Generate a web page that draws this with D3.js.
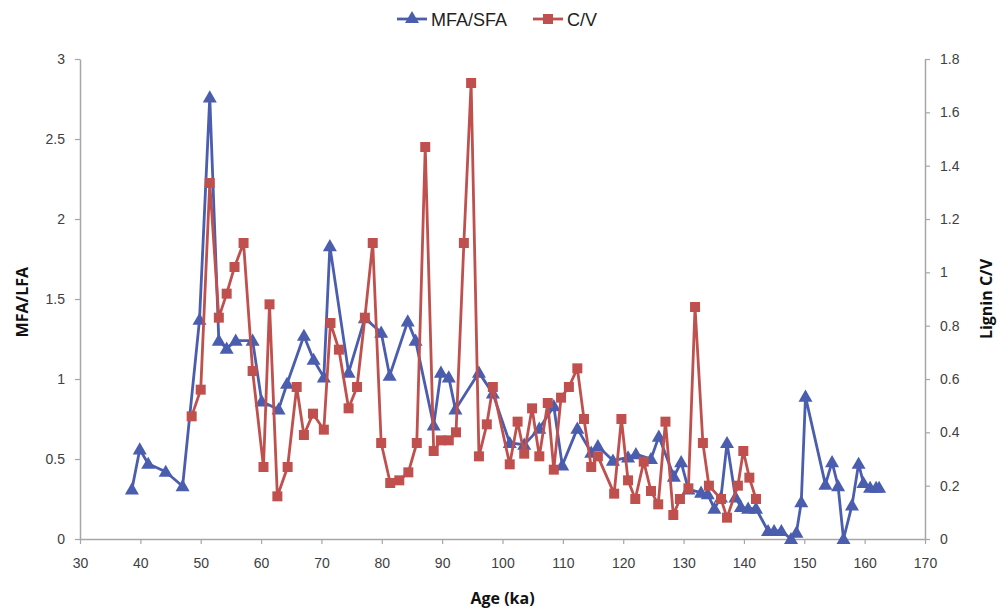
<!DOCTYPE html>
<html>
<head>
<meta charset="utf-8">
<script src="https://cdn.jsdelivr.net/npm/d3@7"></script>
<style>
  body { margin: 0; background: #fff; }
  .tick text { font-family: "Liberation Sans Narrow", "Liberation Sans", sans-serif; font-size: 14px; fill: #404040; }
  .axis-title { font-family: "Open Sans", sans-serif; font-weight: bold; font-size: 16px; fill: #111; }
  .legend text { font-family: "Liberation Sans Narrow", sans-serif; font-size: 18px; fill: #222; }
</style>
</head>
<body>
<svg id="chart" width="1000" height="611"></svg>
<script>
// MFA/SFA (left axis)
var mfaAge = [38.6, 39.9, 41.3, 44.2, 47.0, 49.8, 51.5, 53.0, 54.3, 55.8, 58.6, 60.1, 62.9, 64.3, 67.1, 68.7, 70.4, 71.4, 74.5, 77.2,
  79.9, 81.3, 84.3, 85.6, 88.6, 89.8, 91.1, 92.2, 96.1, 98.4, 101.2, 103.6, 106.1, 108.5, 109.9, 112.4, 114.7, 115.8, 118.3, 120.8,
  122.1, 124.6, 125.9, 128.4, 129.6, 130.8, 132.9, 134.0, 135.1, 136.2, 137.2, 138.6, 139.5, 140.7, 142.0, 144.0, 145.0, 146.2, 147.8, 148.7,
  149.5, 150.2, 153.5, 154.6, 155.6, 156.5, 157.9, 159.0, 159.8, 160.9, 161.9, 162.4];
var mfaVal = [0.31, 0.56, 0.47, 0.42, 0.33, 1.37, 2.76, 1.24, 1.19, 1.24, 1.24, 0.86, 0.81, 0.97, 1.27, 1.12, 1.01, 1.83, 1.04, 1.38,
  1.29, 1.02, 1.36, 1.24, 0.71, 1.04, 1.01, 0.81, 1.04, 0.91, 0.60, 0.59, 0.69, 0.83, 0.46, 0.69, 0.54, 0.58, 0.49, 0.51,
  0.53, 0.50, 0.64, 0.39, 0.48, 0.31, 0.29, 0.28, 0.19, 0.26, 0.60, 0.26, 0.20, 0.19, 0.19, 0.05, 0.05, 0.05, 0.00, 0.04,
  0.23, 0.89, 0.34, 0.48, 0.33, 0.00, 0.21, 0.47, 0.35, 0.32, 0.32, 0.32];

// Lignin C/V (right axis)
var cvAge = [48.5, 50.0, 51.5, 53.0, 54.3, 55.6, 57.1, 58.6, 60.4, 61.4, 62.7, 64.4, 65.9, 67.1, 68.6, 70.4, 71.5, 72.9, 74.5, 75.9,
  77.2, 78.5, 79.9, 81.4, 82.9, 84.4, 85.8, 87.2, 88.6, 89.8, 91.1, 92.3, 93.6, 94.8, 96.1, 97.4, 98.4, 101.2, 102.5, 103.6,
  104.9, 106.1, 107.5, 108.5, 109.7, 111.0, 112.4, 113.5, 114.7, 115.8, 118.5, 119.7, 120.8, 122.0, 123.4, 124.6, 125.8, 127.0, 128.3, 129.4,
  130.8, 131.9, 133.2, 134.2, 136.2, 137.2, 139.0, 139.9, 140.9, 142.0];
var cvVal = [0.46, 0.56, 1.335, 0.83, 0.92, 1.02, 1.11, 0.63, 0.27, 0.88, 0.16, 0.27, 0.57, 0.39, 0.47, 0.41, 0.81, 0.71, 0.49, 0.57,
  0.83, 1.11, 0.36, 0.21, 0.22, 0.25, 0.36, 1.47, 0.33, 0.37, 0.37, 0.40, 1.11, 1.71, 0.31, 0.43, 0.57, 0.28, 0.44, 0.32,
  0.49, 0.31, 0.51, 0.26, 0.53, 0.57, 0.64, 0.45, 0.27, 0.31, 0.17, 0.45, 0.22, 0.15, 0.29, 0.18, 0.13, 0.44, 0.09, 0.15,
  0.19, 0.87, 0.36, 0.20, 0.15, 0.08, 0.20, 0.33, 0.23, 0.15];

var xTicks = d3.range(30, 171, 10);
var yLeftTicks = [0, 0.5, 1, 1.5, 2, 2.5, 3];
var yRightTicks = [0, 0.2, 0.4, 0.6, 0.8, 1, 1.2, 1.4, 1.6, 1.8];

var blue = '#4A5DAE', red = '#C0504D', axisGray = '#A6A6A6';
var margin = {left: 80, right: 75, top: 59, bottom: 72};
var width = 1000, height = 611;

var svg = d3.select('#chart');

var x = d3.scaleLinear().domain([30, 170]).range([margin.left, width - margin.right]);
var yL = d3.scaleLinear().domain([0, 3]).range([height - margin.bottom, margin.top]);
var yR = d3.scaleLinear().domain([0, 1.8]).range([height - margin.bottom, margin.top]);

function styleAxis(g) {
  g.select('.domain').attr('stroke', axisGray).attr('stroke-width', 1.5);
  g.selectAll('.tick line').attr('stroke', axisGray).attr('stroke-width', 1.2);
}

svg.append('g')
  .attr('transform', 'translate(0,' + yL(0) + ')')
  .call(d3.axisBottom(x).tickValues(xTicks).tickSize(5).tickSizeOuter(0).tickPadding(14))
  .call(styleAxis);

svg.append('g')
  .attr('transform', 'translate(' + margin.left + ',0)')
  .call(d3.axisLeft(yL).tickValues(yLeftTicks).tickFormat(d3.format('')).tickSize(5).tickSizeOuter(0).tickPadding(10))
  .call(styleAxis);

svg.append('g')
  .attr('transform', 'translate(' + (width - margin.right) + ',0)')
  .call(d3.axisRight(yR).tickValues(yRightTicks).tickFormat(d3.format('')).tickSize(5).tickSizeOuter(0).tickPadding(10))
  .call(styleAxis);

// axis titles
svg.append('text').attr('class', 'axis-title')
  .attr('x', (margin.left + width - margin.right) / 2).attr('y', 604)
  .attr('text-anchor', 'middle').text('Age (ka)');
svg.append('text').attr('class', 'axis-title')
  .attr('transform', 'translate(28,' + yL(1.48) + ') rotate(-90)')
  .attr('text-anchor', 'middle').text('MFA/LFA');
svg.append('text').attr('class', 'axis-title')
  .attr('transform', 'translate(992,' + yR(0.9) + ') rotate(-90)')
  .attr('text-anchor', 'middle').text('Lignin C/V');

var mfa = mfaAge.map(function(a, i) { return {x: a, y: mfaVal[i]}; });
var cv = cvAge.map(function(a, i) { return {x: a, y: cvVal[i]}; });

var tri = d3.symbol().type(d3.symbolTriangle).size(85);
var sq = d3.symbol().type(d3.symbolSquare).size(100);

// MFA/SFA series
svg.append('path').datum(mfa)
  .attr('fill', 'none').attr('stroke', blue).attr('stroke-width', 2.8).attr('stroke-linejoin', 'round')
  .attr('d', d3.line().x(function(d) { return x(d.x); }).y(function(d) { return yL(d.y); }));
svg.append('g').selectAll('path').data(mfa).join('path')
  .attr('d', tri).attr('fill', blue)
  .attr('transform', function(d) { return 'translate(' + x(d.x) + ',' + (yL(d.y) + 1) + ')'; });

// C/V series
svg.append('path').datum(cv)
  .attr('fill', 'none').attr('stroke', red).attr('stroke-width', 2.8).attr('stroke-linejoin', 'round')
  .attr('d', d3.line().x(function(d) { return x(d.x); }).y(function(d) { return yR(d.y); }));
svg.append('g').selectAll('path').data(cv).join('path')
  .attr('d', sq).attr('fill', red)
  .attr('transform', function(d) { return 'translate(' + x(d.x) + ',' + yR(d.y) + ')'; });

// legend
var legend = svg.append('g').attr('class', 'legend');
var items = [{name: 'MFA/SFA', color: blue, sym: tri, x: 397}, {name: 'C/V', color: red, sym: sq, x: 533}];
items.forEach(function(it) {
  var g = legend.append('g').attr('transform', 'translate(' + it.x + ',19)');
  g.append('line').attr('x1', 0).attr('x2', 30).attr('stroke', it.color).attr('stroke-width', 2.8);
  g.append('path').attr('d', it.sym).attr('fill', it.color).attr('transform', 'translate(15,0)');
  g.append('text').attr('x', 34).attr('y', 6.5).text(it.name);
});
</script>
</body>
</html>
